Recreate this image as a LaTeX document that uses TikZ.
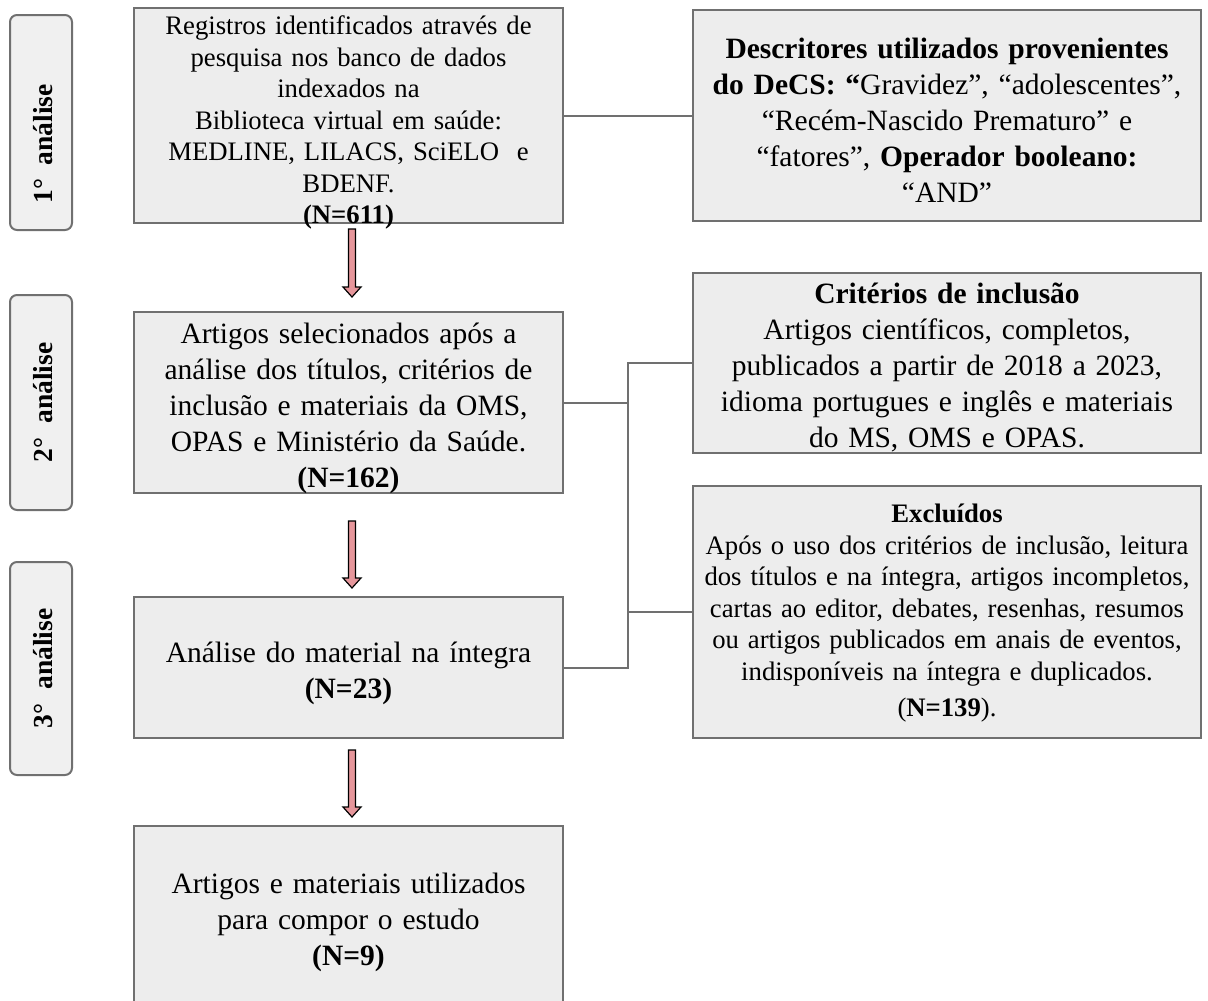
\documentclass[tikz,border=0pt]{standalone}
\usepackage{fontspec}
\setmainfont{Liberation Serif}

\definecolor{boxfill}{RGB}{237,237,237}
\definecolor{boxline}{RGB}{112,112,112}
\definecolor{labelfill}{RGB}{240,240,240}
\definecolor{arrowfill}{RGB}{230,150,155}

\newcommand{\bodyfont}{\fontsize{29.5}{36}\selectfont}
\newcommand{\smallbodyfont}{\fontsize{26.7}{31.5}\selectfont}
\newcommand{\labelfont}{\fontsize{27.5}{30}\selectfont\bfseries}

\begin{document}
\begin{tikzpicture}
[x=1pt,y=-1pt,
  boxdecorate/.style={shape=rectangle,draw=boxline,fill=boxfill,line width=2pt,inner sep=0pt,align=center,font=\bodyfont},%
  maindecorate/.style={boxdecorate,text width=429pt,minimum height=#1},%
  sidedecorate/.style={boxdecorate,text width=508pt,minimum height=#1},%
  textspan/.style={text height=0pt,text depth=#1},%
  labeldecorate/.style={shape=rectangle,rounded corners=7pt,draw=boxline,fill=labelfill,line width=2pt,rotate=90,minimum height=62,minimum width=#1},%
  labeltext/.style={rotate=90,inner sep=0pt,font=\labelfont},%
  linedecorate/.style={-,draw=boxline,line width=2pt},%
  arrowdecorate/.style={draw=black,fill=arrowfill,line width=1.2pt,line join=miter}]
\useasboundingbox (0,0) rectangle (1208,1001);
%% boxes on the left
\node (reg) at (348.5,115.5) [maindecorate=215,font=\smallbodyfont,textspan=161.8pt]
  {Registros identificados através de\\pesquisa nos banco de dados\\indexados na\\Biblioteca virtual em saúde:\\MEDLINE, LILACS, SciELO\ \ e\\BDENF.\\\textbf{(N=611)}};
\node (sel) at (348.5,402.5) [maindecorate=181,textspan=117.4pt]
  {Artigos selecionados após a\\análise dos títulos, critérios de\\inclusão e materiais da OMS,\\OPAS e Ministério da Saúde.\\\textbf{(N=162)}};
\node (int) at (348.5,667.5) [maindecorate=141,textspan=9.4pt]
  {Análise do material na íntegra\\\textbf{(N=23)}};
\node (fin) at (348.5,919) [maindecorate=186,textspan=50.4pt]
  {Artigos e materiais utilizados\\para compor o estudo\\\textbf{(N=9)}};
%% boxes on the right
\node (dec) at (947,115.5) [sidedecorate=211,textspan=113.4pt]
  {\textbf{Descritores utilizados provenientes}\\\textbf{do DeCS: “}Gravidez”, “adolescentes”,\\“Recém-Nascido Prematuro” e\\“fatores”, \textbf{Operador booleano:}\\“AND”};
\node (inc) at (947,363) [sidedecorate=180,textspan=118.4pt]
  {\textbf{Critérios de inclusão}\\Artigos científicos, completos,\\publicados a partir de 2018 a 2023,\\idioma portugues e inglês e materiais\\do MS, OMS e OPAS.};
\node (exc) at (947,612) [sidedecorate=252,font=\smallbodyfont,textspan=178.8pt]
  {\textbf{Excluídos}\\Após o uso dos critérios de inclusão, leitura\\dos títulos e na íntegra, artigos incompletos,\\cartas ao editor, debates, resenhas, resumos\\ou artigos publicados em anais de eventos,\\indisponíveis na íntegra e duplicados.\\[5pt](\textbf{N=139}).};
%% stage labels
\foreach \nodename/\y/\h/\shift/\txt in {
  lab1/122.5/215/21.5/1, lab2/402.5/215/0/2, lab3/668.5/213/0/3}
{
  \node (\nodename) at (41,\y) [labeldecorate=\h] {};
  \node (\nodename-txt) at (43,\y+\shift) [labeltext] {{\txt}°~~análise};
}
%% block arrows
\foreach \startnode/\gap/\len in {reg/5/68, sel/27/67, int/11/67}
{
  \draw[arrowdecorate] (\startnode.south) ++(0,\gap) -- ++(0,\len-10) -- ++(-5.5,0)
    -- ++(9,10) -- ++(9,-10) -- ++(-5.5,0) -- ++(0,-\len+10) -- cycle;
}
%% connector lines
\coordinate (trunk) at (628,500);
\path (reg) edge[linedecorate] (dec);
\draw[linedecorate] (sel.east) -- (sel.east -| trunk);
\draw[linedecorate] (inc.west) -| (trunk) |- (int.east);
\draw[linedecorate] (exc.west) -- (exc.west -| trunk);
\end{tikzpicture}
\end{document}
